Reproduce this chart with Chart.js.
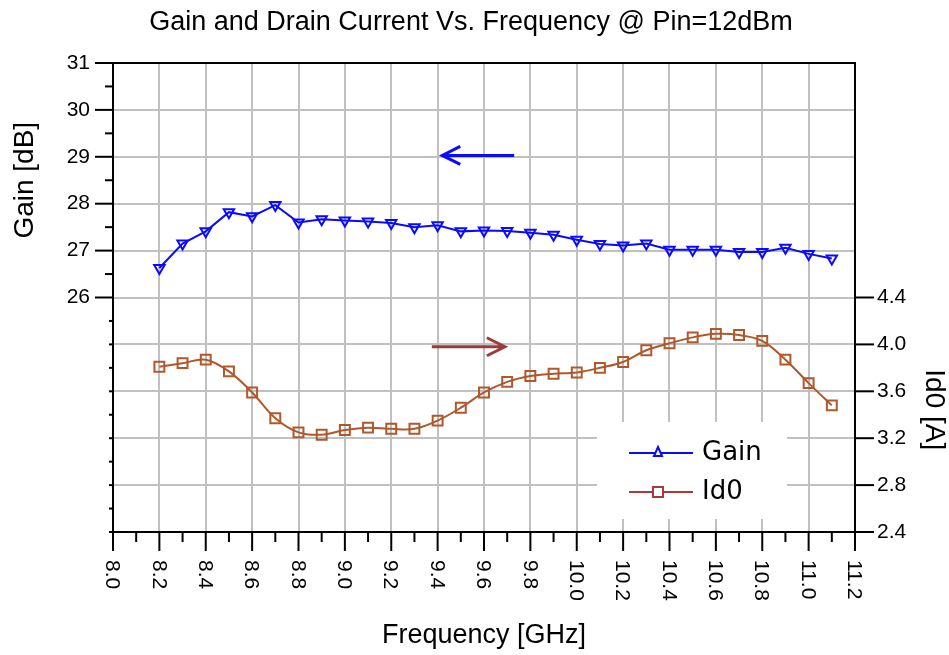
<!DOCTYPE html>
<html>
<head>
<meta charset="utf-8">
<script src="https://cdn.jsdelivr.net/npm/chart.js@4"></script>
<style>
  body { margin: 0; background: #fff; }
  #wrap { width: 949px; height: 655px; }
</style>
</head>
<body>
<div id="wrap"><canvas id="gainId"></canvas></div>
<script>
// frequences (GHz) et valeurs
const freq = [8.2, 8.3, 8.4, 8.5, 8.6, 8.7, 8.8, 8.9, 9.0, 9.1, 9.2, 9.3, 9.4, 9.5, 9.6,
              9.7, 9.8, 9.9, 10.0, 10.1, 10.2, 10.3, 10.4, 10.5, 10.6, 10.7, 10.8, 10.9, 11.0, 11.1];
const gain = [26.63, 27.15, 27.41, 27.82, 27.73, 27.97, 27.60, 27.67, 27.64, 27.62, 27.59, 27.50, 27.54, 27.41, 27.43,
              27.42, 27.38, 27.34, 27.23, 27.14, 27.11, 27.15, 27.02, 27.02, 27.02, 26.97, 26.97, 27.06, 26.93, 26.83];
const id0 = [3.81, 3.84, 3.87, 3.77, 3.59, 3.37, 3.25, 3.23, 3.27, 3.29, 3.28, 3.28, 3.35, 3.46, 3.59,
             3.68, 3.73, 3.75, 3.76, 3.80, 3.85, 3.95, 4.01, 4.06, 4.09, 4.08, 4.03, 3.87, 3.67, 3.48];
const xTickLabels = ['8.0', '8.2', '8.4', '8.6', '8.8', '9.0', '9.2', '9.4', '9.6', '9.8',
                     '10.0', '10.2', '10.4', '10.6', '10.8', '11.0', '11.2'];

const BLUE = '#0a0aff';
const BROWN = '#b0582c';
const FONT = 'Liberation Sans, Arial, sans-serif';

// fleches, legende, graduations et titres
const decor = {
    id: 'decor',
    afterDatasetsDraw(chart) {
        const ctx = chart.ctx;
        const x = chart.scales.x, y = chart.scales.y, y1 = chart.scales.y1;

        // fleches
        const arrow = (x0, x1, yy, color) => {
            const dir = x1 > x0 ? 1 : -1;
            ctx.save();
            ctx.strokeStyle = color;
            ctx.lineWidth = 3;
            ctx.beginPath();
            ctx.moveTo(x0, yy);
            ctx.lineTo(x1, yy);
            ctx.moveTo(x1 - dir * 18, yy - 9);
            ctx.lineTo(x1, yy);
            ctx.lineTo(x1 - dir * 18, yy + 9);
            ctx.stroke();
            ctx.restore();
        };
        arrow(x.getPixelForValue(9.73), x.getPixelForValue(9.42), y.getPixelForValue(29.03), BLUE);
        arrow(x.getPixelForValue(9.375), x.getPixelForValue(9.69), y1.getPixelForValue(3.98), '#9b3a3a');

        // legende
        ctx.save();
        ctx.fillStyle = '#fff';
        ctx.fillRect(597, 422, 190, 97);
        ctx.lineWidth = 2;
        ctx.strokeStyle = BLUE;
        ctx.beginPath(); ctx.moveTo(629, 453); ctx.lineTo(693, 453); ctx.stroke();
        ctx.beginPath(); ctx.moveTo(658, 447); ctx.lineTo(662, 456); ctx.lineTo(654, 456); ctx.closePath();
        ctx.fillStyle = '#fff'; ctx.fill(); ctx.stroke();
        ctx.strokeStyle = '#a83a3a';
        ctx.beginPath(); ctx.moveTo(629, 492); ctx.lineTo(693, 492); ctx.stroke();
        ctx.fillRect(653, 487, 10, 10); ctx.strokeRect(653, 487, 10, 10);
        ctx.fillStyle = '#000';
        ctx.font = '26px "DejaVu Sans"';
        ctx.textBaseline = 'middle';
        ctx.fillText('Gain', 702, 453);
        ctx.fillText('Id0', 702, 492);
        ctx.restore();
    },
    afterDraw(chart) {
        const ctx = chart.ctx;
        const area = chart.chartArea;
        const x = chart.scales.x, y = chart.scales.y, y1 = chart.scales.y1;
        ctx.save();
        ctx.strokeStyle = '#000';
        ctx.lineWidth = 2;

        // cadre du haut
        ctx.beginPath(); ctx.moveTo(area.left, area.top); ctx.lineTo(area.right, area.top); ctx.stroke();

        // graduations gauche
        for (let i = 0; i <= 20; i++) {
            const v = 21 + i * 0.5;
            const len = v >= 26 ? (i % 2 === 0 ? 18 : 8) : 4;
            const py = y.getPixelForValue(v);
            ctx.beginPath(); ctx.moveTo(area.left - len, py); ctx.lineTo(area.left, py); ctx.stroke();
        }
        // graduations droite
        for (let i = 0; i <= 5; i++) {
            const py = y1.getPixelForValue(2.4 + i * 0.4);
            ctx.beginPath(); ctx.moveTo(area.right, py); ctx.lineTo(area.right + 19, py); ctx.stroke();
        }
        // graduations bas
        for (let i = 0; i <= 32; i++) {
            const px = x.getPixelForValue(8 + i * 0.1);
            const len = i % 2 === 0 ? 19 : 10;
            ctx.beginPath(); ctx.moveTo(px, area.bottom); ctx.lineTo(px, area.bottom + len); ctx.stroke();
        }

        // etiquettes x tournees
        ctx.fillStyle = '#000';
        ctx.font = '21px ' + FONT;
        ctx.textAlign = 'left';
        ctx.textBaseline = 'middle';
        xTickLabels.forEach(lbl => {
            ctx.save();
            ctx.translate(x.getPixelForValue(parseFloat(lbl)) - 1, area.bottom + 28);
            ctx.rotate(Math.PI / 2);
            ctx.fillText(lbl, 0, 0);
            ctx.restore();
        });

        // titres
        ctx.textAlign = 'center';
        ctx.font = '27px ' + FONT;
        ctx.fillText('Gain and Drain Current Vs. Frequency @ Pin=12dBm', 471, 23);

        ctx.font = '28px ' + FONT;
        ctx.save();
        ctx.translate(25, (y.getPixelForValue(26) + y.getPixelForValue(31)) / 2);
        ctx.rotate(-Math.PI / 2);
        ctx.fillText('Gain [dB]', 0, 0);
        ctx.restore();

        ctx.save();
        ctx.translate(934, (y1.getPixelForValue(2.4) + y1.getPixelForValue(4.4)) / 2 - 5);
        ctx.rotate(Math.PI / 2);
        ctx.fillText('Id0 [A]', 0, 0);
        ctx.restore();

        ctx.restore();
    }
};

const ctx = document.getElementById('gainId');

new Chart(ctx, {
    type: 'line',
    data: {
        datasets: [{
            label: 'Gain',
            data: freq.map((f, i) => ({ x: f, y: gain[i] })),
            yAxisID: 'y',
            borderColor: BLUE,
            borderWidth: 2,
            pointStyle: 'triangle',
            rotation: 180,
            pointRadius: 6,
            pointBorderWidth: 2,
            pointBorderColor: BLUE,
            pointBackgroundColor: 'rgba(255,255,255,0)',
        }, {
            label: 'Id0',
            data: freq.map((f, i) => ({ x: f, y: id0[i] })),
            yAxisID: 'y1',
            borderColor: BROWN,
            borderWidth: 2,
            tension: 0.35,
            pointStyle: 'rect',
            pointRadius: 7,
            pointBorderWidth: 2,
            pointBorderColor: BROWN,
            pointBackgroundColor: 'rgba(255,255,255,0)',
        }]
    },
    options: {
        responsive: true,
        maintainAspectRatio: false,
        animation: false,
        layout: { padding: { top: 63, left: 0, right: 0, bottom: 0 } },
        scales: {
            x: {
                type: 'linear',
                min: 8,
                max: 11.2,
                afterFit: s => { s.height = 123; },
                ticks: { display: false, stepSize: 0.2 },
                grid: { color: '#c0c0c0', lineWidth: 2, drawTicks: false },
                border: { color: '#000', width: 2 },
                title: {
                    display: true,
                    text: 'Frequency [GHz]',
                    color: '#000',
                    font: { family: FONT, size: 27 },
                    padding: { top: 0, bottom: 3 },
                },
            },
            y: {
                position: 'left',
                min: 21,
                max: 31,
                afterFit: s => { s.width = 113; },
                ticks: {
                    stepSize: 1,
                    padding: 23,
                    color: '#000',
                    font: { family: FONT, size: 21 },
                    callback: v => v >= 26 ? v : '',
                },
                grid: { color: '#c0c0c0', lineWidth: 2, drawTicks: false },
                border: { color: '#000', width: 2 },
            },
            y1: {
                position: 'right',
                min: 2.4,
                max: 6.4,
                afterFit: s => { s.width = 94; },
                ticks: {
                    stepSize: 0.4,
                    padding: 22,
                    color: '#000',
                    font: { family: FONT, size: 21 },
                    callback: v => v <= 4.41 ? v.toFixed(1) : '',
                },
                grid: { display: false, drawTicks: false },
                border: { color: '#000', width: 2 },
            },
        },
        plugins: {
            legend: { display: false },
            tooltip: { enabled: false },
        }
    },
    plugins: [decor]
});
</script>
</body>
</html>
